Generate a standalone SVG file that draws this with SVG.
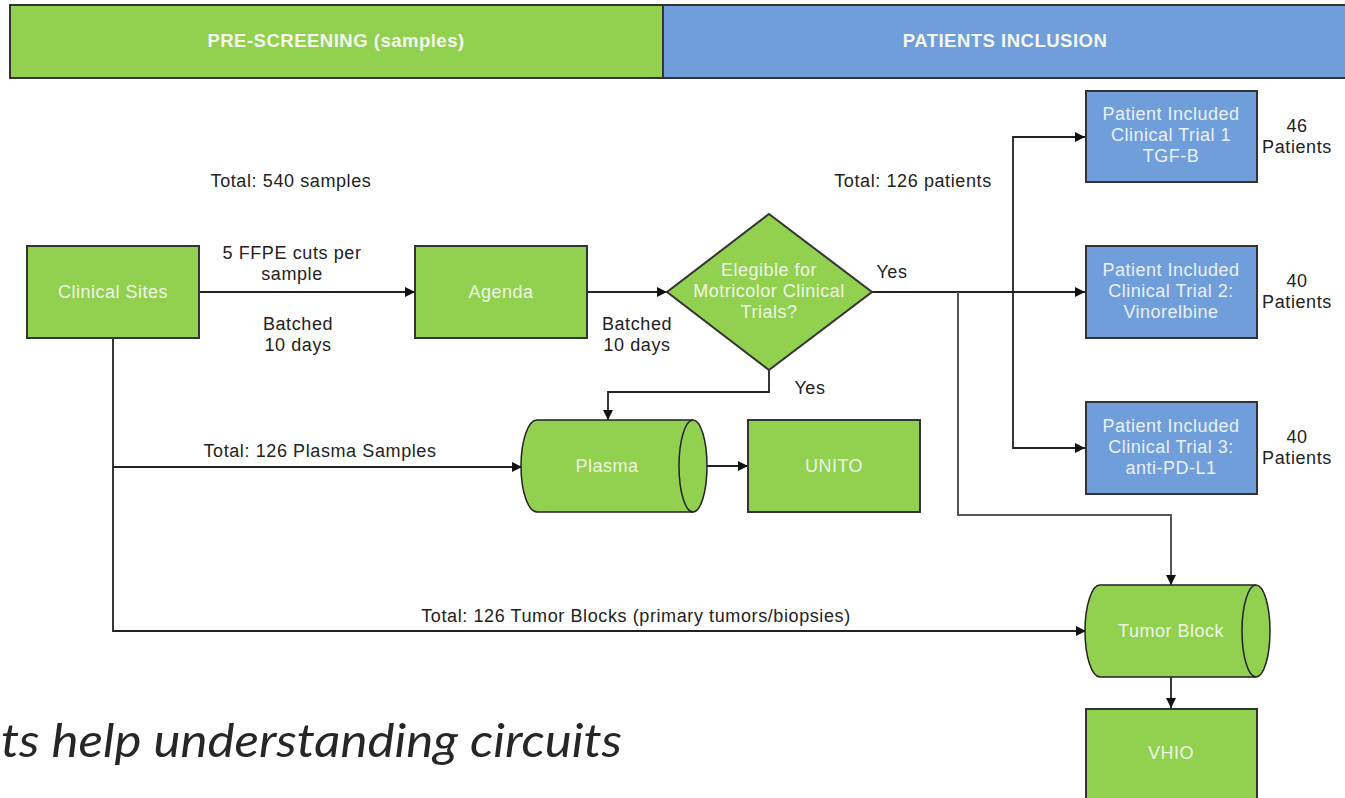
<svg xmlns="http://www.w3.org/2000/svg" width="1345" height="798" viewBox="0 0 1345 798">
  <style>
    .green { fill: #92d050; stroke: #333; stroke-width: 2; }
    .blue { fill: #6f9edb; stroke: #333; stroke-width: 2; }
    .edge { fill: #92d050; stroke: #222; stroke-width: 1.5; }
    .hdr { font-family: "Liberation Sans", Arial, sans-serif; font-size: 18.5px; font-weight: bold; fill: #f4f8ee; text-anchor: middle; letter-spacing: 0.5px; }
    .nl { font-family: "Liberation Sans", Arial, sans-serif; font-size: 18px; fill: #eef6e4; text-anchor: middle; letter-spacing: 0.5px; }
    .bl { font-family: "Liberation Sans", Arial, sans-serif; font-size: 18px; fill: #eaf1fb; text-anchor: middle; letter-spacing: 0.5px; }
    .lbl { font-family: "Liberation Sans", Arial, sans-serif; font-size: 18px; fill: #222; text-anchor: middle; letter-spacing: 0.6px; }
    .wire { fill: none; stroke: #222; stroke-width: 1.8; }
    .wire2 { fill: none; stroke: #555; stroke-width: 2; }
  </style>
  <defs>
    <marker id="arrow" viewBox="0 0 10 10" refX="10" refY="5" markerWidth="10" markerHeight="10" markerUnits="userSpaceOnUse" orient="auto">
      <path d="M0,0 L10,5 L0,10 Z" fill="#111"/>
    </marker>
  </defs>
  <rect width="1345" height="798" fill="#ffffff"/>

  <!-- phase headers -->
  <g id="header-prescreening">
    <rect class="green" x="10" y="5" width="653" height="73"/>
    <text class="hdr" x="336" y="47">PRE-SCREENING (samples)</text>
  </g>
  <g id="header-inclusion">
    <rect class="blue" x="663" y="5" width="690" height="73"/>
    <text class="hdr" x="1005" y="47">PATIENTS INCLUSION</text>
  </g>

  <!-- connectors -->
  <g id="connectors">
    <path class="wire" d="M199,292 H415" marker-end="url(#arrow)"/>
    <path class="wire" d="M587,292 H667" marker-end="url(#arrow)"/>
    <path class="wire" d="M872,292 H1085" marker-end="url(#arrow)"/>
    <path class="wire" d="M1013,292 V137 H1085" marker-end="url(#arrow)"/>
    <path class="wire" d="M1013,292 V448 H1085" marker-end="url(#arrow)"/>
    <path class="wire2" d="M958,292 V515 H1171 V585" marker-end="url(#arrow)"/>
    <path class="wire" d="M769,370 V392 H608 V420" marker-end="url(#arrow)"/>
    <path class="wire" d="M113,338 V631 H1086" marker-end="url(#arrow)"/>
    <path class="wire" d="M113,467 H522" marker-end="url(#arrow)"/>
    <path class="wire" d="M693,466 H748" marker-end="url(#arrow)"/>
    <path class="wire" d="M1171,677 V708" marker-end="url(#arrow)"/>
  </g>

  <!-- edge labels -->
  <g id="labels">
    <text class="lbl" x="291" y="187">Total: 540 samples</text>
    <text class="lbl" x="292" y="259">5 FFPE cuts per</text>
    <text class="lbl" x="292" y="280">sample</text>
    <text class="lbl" x="298" y="330">Batched</text>
    <text class="lbl" x="298" y="351">10 days</text>
    <text class="lbl" x="637" y="330">Batched</text>
    <text class="lbl" x="637" y="351">10 days</text>
    <text class="lbl" x="913" y="187">Total: 126 patients</text>
    <text class="lbl" x="892" y="278">Yes</text>
    <text class="lbl" x="810" y="394">Yes</text>
    <text class="lbl" x="320" y="457">Total: 126 Plasma Samples</text>
    <text class="lbl" x="636" y="622">Total: 126 Tumor Blocks (primary tumors/biopsies)</text>
    <text class="lbl" x="1297" y="132">46</text>
    <text class="lbl" x="1297" y="153">Patients</text>
    <text class="lbl" x="1297" y="287">40</text>
    <text class="lbl" x="1297" y="308">Patients</text>
    <text class="lbl" x="1297" y="443">40</text>
    <text class="lbl" x="1297" y="464">Patients</text>
  </g>

  <!-- nodes -->
  <g id="clinical-sites">
    <rect class="green" x="27" y="246" width="172" height="92"/>
    <text class="nl" x="113" y="298">Clinical Sites</text>
  </g>
  <g id="agenda">
    <rect class="green" x="415" y="246" width="172" height="92"/>
    <text class="nl" x="501" y="298">Agenda</text>
  </g>
  <g id="eligibility">
    <path class="green" d="M769,214 L872,292 L769,370 L667,292 Z" stroke-width="1.5"/>
    <text class="nl" x="769" y="276">Elegible for</text>
    <text class="nl" x="769" y="297">Motricolor Clinical</text>
    <text class="nl" x="769" y="318">Trials?</text>
  </g>
  <g id="plasma">
    <path class="edge" d="M537,420 H693 A14,46 0 0 1 693,512 H537 A16,46 0 0 1 537,420 Z"/>
    <path class="edge" d="M693,420 A14,46 0 0 0 693,512" fill="none"/>
    <text class="nl" x="607" y="472">Plasma</text>
  </g>
  <g id="unito">
    <rect class="green" x="748" y="420" width="172" height="92"/>
    <text class="nl" x="834" y="472">UNITO</text>
  </g>
  <g id="trial-1">
    <rect class="blue" x="1086" y="91" width="171" height="91"/>
    <text class="bl" x="1171" y="120">Patient Included</text>
    <text class="bl" x="1171" y="141">Clinical Trial 1</text>
    <text class="bl" x="1171" y="162">TGF-B</text>
  </g>
  <g id="trial-2">
    <rect class="blue" x="1086" y="246" width="171" height="92"/>
    <text class="bl" x="1171" y="276">Patient Included</text>
    <text class="bl" x="1171" y="297">Clinical Trial 2:</text>
    <text class="bl" x="1171" y="318">Vinorelbine</text>
  </g>
  <g id="trial-3">
    <rect class="blue" x="1086" y="402" width="171" height="92"/>
    <text class="bl" x="1171" y="432">Patient Included</text>
    <text class="bl" x="1171" y="453">Clinical Trial 3:</text>
    <text class="bl" x="1171" y="474">anti-PD-L1</text>
  </g>
  <g id="tumor-block">
    <path class="edge" d="M1100,585 H1256 A14,46 0 0 1 1256,677 H1100 A15,46 0 0 1 1100,585 Z"/>
    <path class="edge" d="M1256,585 A14,46 0 0 0 1256,677" fill="none"/>
    <text class="nl" x="1171" y="637">Tumor Block</text>
  </g>
  <g id="vhio">
    <rect class="green" x="1086" y="709" width="171" height="100"/>
    <text class="nl" x="1171" y="759">VHIO</text>
  </g>

  <!-- slide caption along the lower left -->
  <text x="1" y="757" textLength="621" lengthAdjust="spacingAndGlyphs" font-family="Lato, 'Open Sans', sans-serif" font-style="italic" font-size="47" fill="#262626">ts help understanding circuits</text>
</svg>
